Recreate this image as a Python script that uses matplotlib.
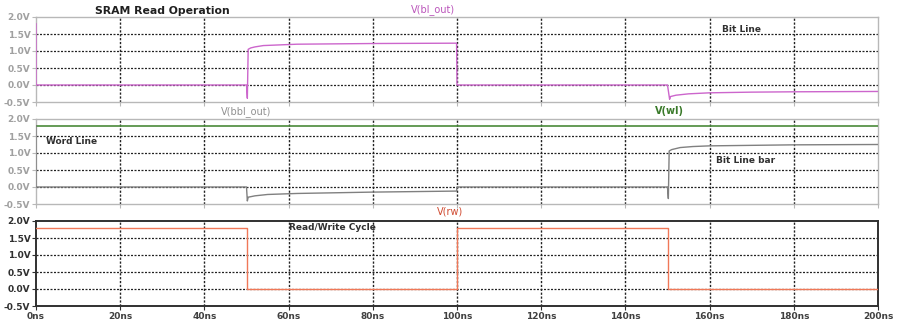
import matplotlib
matplotlib.use("Agg")
import matplotlib.pyplot as plt

# time in ns, voltage in V
t_bl = [0, 0.01, 50, 50.2, 50.4, 51, 52, 54, 58, 62, 80, 99.9, 100, 150, 150.5, 150.7, 152, 155, 160, 170, 180, 200]
v_bl = [1.8, 0, 0, -0.39, 1.05, 1.09, 1.12, 1.16, 1.18, 1.20, 1.22, 1.23, 0, 0, -0.42, -0.34, -0.30, -0.26, -0.23, -0.21, -0.20, -0.19]

t_bbl = [0, 0.01, 50, 50.2, 50.4, 52, 55, 62, 80, 99.9, 100, 150, 150.2, 150.4, 151, 153, 156, 160, 180, 200]
v_bbl = [1.8, 0, 0, -0.41, -0.30, -0.26, -0.22, -0.19, -0.15, -0.12, 0, 0, -0.34, 1.06, 1.10, 1.16, 1.19, 1.21, 1.24, 1.25]

t_wl = [0, 200]
v_wl = [1.8, 1.8]

t_rw = [0, 50, 50, 100, 100, 150, 150, 200]
v_rw = [1.8, 1.8, 0, 0, 1.8, 1.8, 0, 0]

x_ticks = list(range(0, 201, 20))
x_labels = [f"{x}ns" for x in x_ticks]
y_ticks = [-0.5, 0.0, 0.5, 1.0, 1.5, 2.0]
y_labels = [f"{y:.1f}V" for y in y_ticks]

fig = plt.figure(figsize=(8.98, 3.29), dpi=100)
fig.patch.set_facecolor("white")

left, width, h = 36 / 898, 842 / 898, 85 / 329
bottoms = [1 - 102 / 329, 1 - 204 / 329, 1 - 306 / 329]
frame_cols = ["#b8b8b8", "#b8b8b8", "#303030"]
label_cols = ["#a0a0a0", "#a0a0a0", "#303030"]
grid_ls = (0, (1.6, 1.2))

axes = []
for i, b in enumerate(bottoms):
    ax = fig.add_axes([left, b, width, h])
    ax.set_xlim(0, 200)
    ax.set_ylim(-0.5, 2.0)
    ax.set_xticks(x_ticks)
    ax.set_yticks(y_ticks)
    ax.set_yticklabels(y_labels, fontsize=6.5, color=label_cols[i], fontweight="bold")
    if i == 2:
        ax.set_xticklabels(x_labels, fontsize=6.5, color="#404040", fontweight="bold")
    else:
        ax.set_xticklabels([])
    ax.tick_params(length=3, width=0.8, color=frame_cols[i], pad=1)
    for s in ax.spines.values():
        s.set_color(frame_cols[i])
        s.set_linewidth(1.0 if i < 2 else 1.4)
    for x in x_ticks[1:-1]:
        ax.axvline(x, color="#222222", lw=1.0, ls=grid_ls, zorder=1)
    for y in y_ticks[1:-1]:
        ax.axhline(y, color="#222222", lw=0.9, ls=grid_ls, zorder=1)
    axes.append(ax)

ax1, ax2, ax3 = axes
ax1.plot(t_bl, v_bl, color="#cc66cc", lw=1.0, zorder=3)
ax2.plot(t_wl, v_wl, color="#4a8a3a", lw=1.2, zorder=3)
ax2.plot(t_bbl, v_bbl, color="#808080", lw=1.0, zorder=3)
ax3.plot(t_rw, v_rw, color="#f07858", lw=1.0, zorder=3)

fs = 6.5
fig.text(162 / 898, 1 - 11 / 329, "SRAM Read Operation", fontsize=7.8, fontweight="bold",
         color="#202020", ha="center", va="center")
fig.text(433 / 898, 1 - 10 / 329, "V(bl_out)", fontsize=fs + 0.5, color="#bb55bb",
         ha="center", va="center")
fig.text(742 / 898, 1 - 29 / 329, "Bit Line", fontsize=fs, fontweight="bold",
         color="#303030", ha="center", va="center")
fig.text(246 / 898, 1 - 112 / 329, "V(bbl_out)", fontsize=fs + 0.5, color="#909090",
         ha="center", va="center")
fig.text(669 / 898, 1 - 111 / 329, "V(wl)", fontsize=fs + 0.5, fontweight="bold",
         color="#3a7a2a", ha="center", va="center")
fig.text(72 / 898, 1 - 141 / 329, "Word Line", fontsize=fs, fontweight="bold",
         color="#303030", ha="center", va="center")
fig.text(746 / 898, 1 - 160 / 329, "Bit Line bar", fontsize=fs, fontweight="bold",
         color="#303030", ha="center", va="center")
fig.text(450 / 898, 1 - 211 / 329, "V(rw)", fontsize=fs + 0.5, color="#d04a30",
         ha="center", va="center")
fig.text(332 / 898, 1 - 228 / 329, "Read/Write Cycle", fontsize=fs, fontweight="bold",
         color="#303030", ha="center", va="center")

fig.savefig("out.png", dpi=100)
